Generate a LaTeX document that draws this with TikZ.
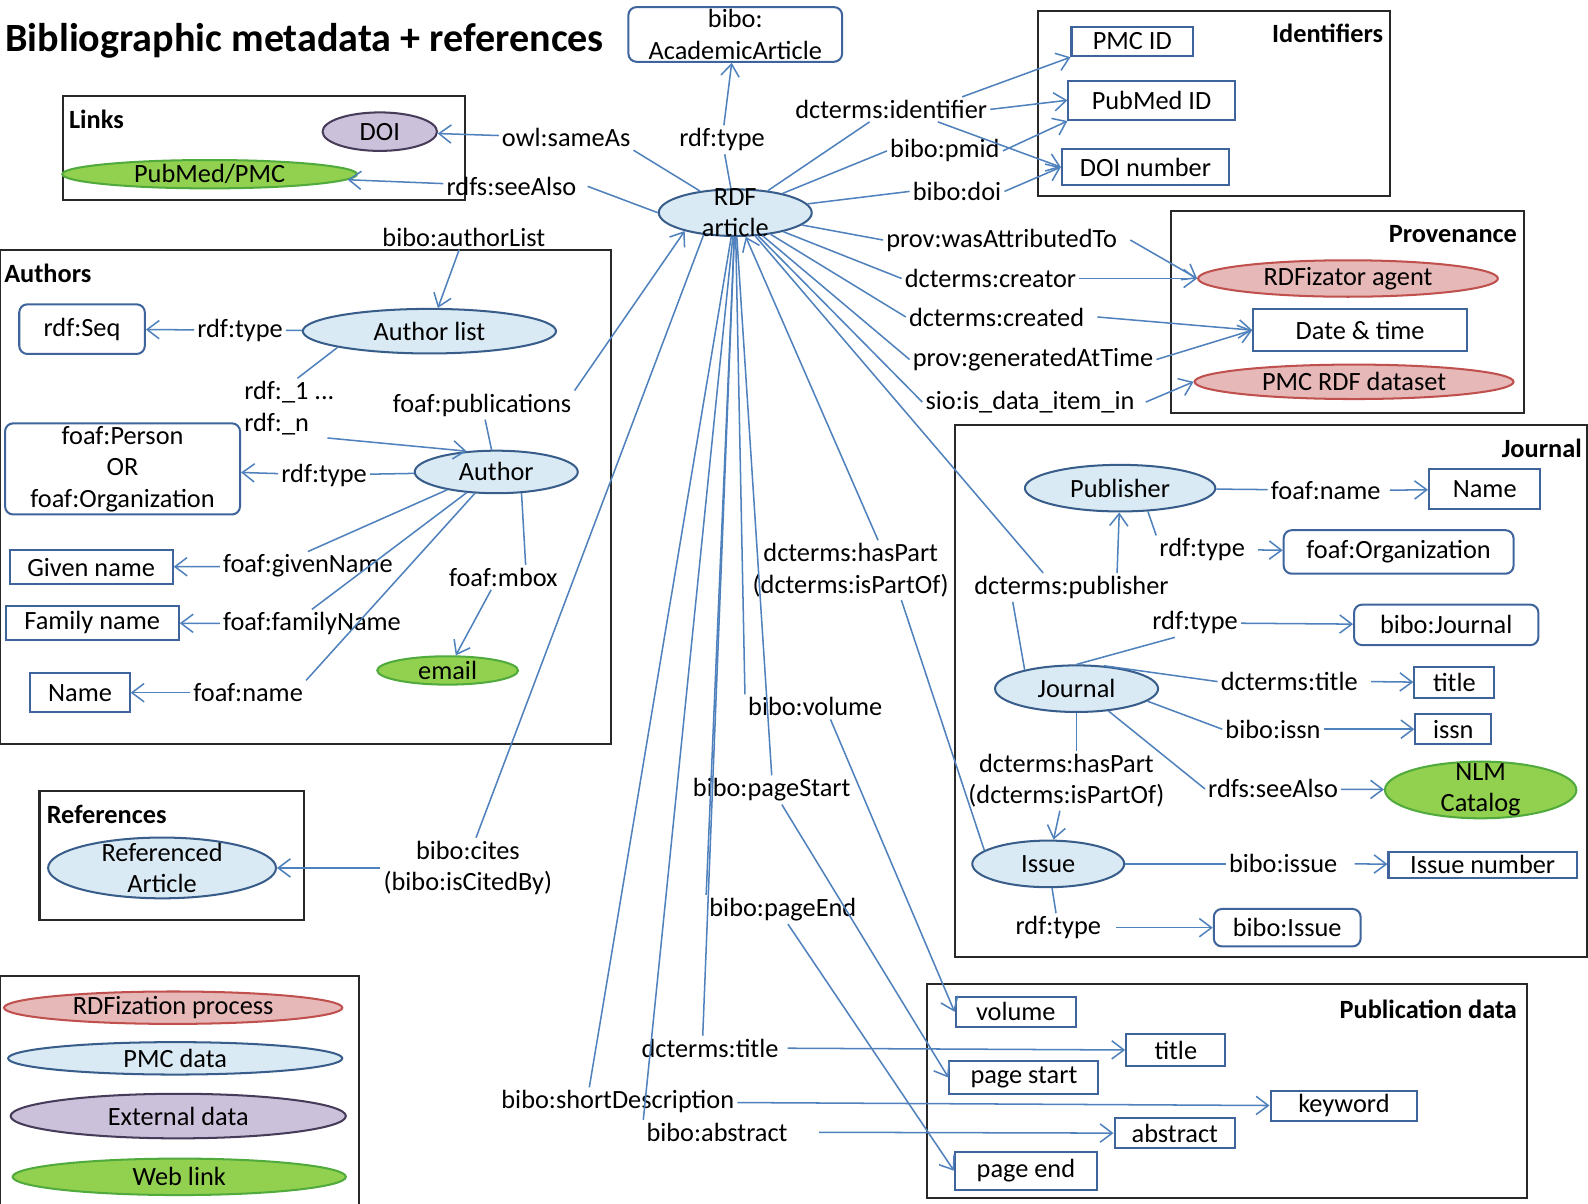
\documentclass[tikz,border=0pt]{standalone}
\usepackage{fontspec}
\setmainfont{Carlito}
\usepackage{xcolor}
\usetikzlibrary{arrows.meta,shapes.geometric}
\definecolor{linkblue}{RGB}{79,129,189}
\definecolor{nodeblue}{RGB}{62,100,155}
\definecolor{pmcfill}{RGB}{218,234,244}
\definecolor{pmcline}{RGB}{56,93,138}
\definecolor{rdzfill}{RGB}{230,184,183}
\definecolor{rdzline}{RGB}{192,80,77}
\definecolor{extfill}{RGB}{204,193,218}
\definecolor{extline}{RGB}{70,60,90}
\definecolor{webfill}{RGB}{146,208,80}
\definecolor{webline}{RGB}{80,170,60}
\definecolor{grpline}{RGB}{40,40,40}
\tikzset{
  lbl/.style={font=\fontsize{26}{31}\selectfont, inner sep=3pt, align=center},
  hd/.style={font=\fontsize{26}{31}\selectfont\bfseries, inner sep=0pt},
  ttl/.style={font=\fontsize{39.6}{46}\selectfont\bfseries, inner sep=0pt},
  box/.style 2 args={lbl, draw=nodeblue, line width=2pt, minimum width=#1, minimum height=#2, inner sep=0pt},
  rbox/.style 2 args={box={#1}{#2}, rounded corners=8pt},
  ell/.style 2 args={ellipse, line width=2pt, minimum width=#1, minimum height=#2, inner sep=0pt},
  pmc/.style 2 args={ell={#1}{#2}, draw=pmcline, fill=pmcfill},
  rdz/.style 2 args={ell={#1}{#2}, draw=rdzline, fill=rdzfill},
  ext/.style 2 args={ell={#1}{#2}, draw=extline, fill=extfill},
  web/.style 2 args={ell={#1}{#2}, draw=webline, fill=webfill},
  grp/.style={draw=grpline, line width=2pt},
  edge/.style={draw=linkblue, line width=1.5pt},
  arr/.style={edge, -{Straight Barb[length=12pt,width=18pt]}}
}
\begin{document}
\begin{tikzpicture}[x=1pt,y=-1pt]
\fill[white] (0,0) rectangle (1568,1188);
\useasboundingbox (0,0) rectangle (1568,1188);
\node[ttl,anchor=west] (title) at (5,40) {Bibliographic metadata + references};

% group boxes
\draw[grp] (62,95) rectangle (459,197);
\draw[grp] (1025,11) rectangle (1372,194);
\draw[grp] (1156,208) rectangle (1505,408);
\draw[grp] (0,247) rectangle (603,735);
\draw[grp] (39,781) rectangle (300,908);
\draw[grp] (0,964) rectangle (354,1192);
\draw[grp] (943,420) rectangle (1567,945);
\draw[grp] (915,972) rectangle (1508,1183);
\node[hd,anchor=west] (hlinks) at (68,118) {Links};
\node[hd,anchor=east] (hident) at (1366,33) {Identifiers};
\node[hd,anchor=east] (hprov) at (1498,231) {Provenance};
\node[hd,anchor=west] (hauth) at (4,270) {Authors};
\node[hd,anchor=west] (hrefs) at (46,804) {References};
\node[hd,anchor=east] (hjour) at (1562,443) {Journal};
\node[hd,anchor=east] (hpubd) at (1498,997) {Publication data};

% article
\node[pmc={151}{46},label={[lbl]center:RDF\\article}] (art) at (726,210) {};
\node[rbox={211}{54}] (acad) at (726,34) {bibo:\\AcademicArticle};
\node[lbl] (type) at (713,138) {rdf:type};
\draw[edge] (art) -- (type); \draw[arr] (type) -- (acad);

% links
\node[ext={113}{38},label={[lbl]center:DOI}] (doi) at (375,130) {};
\node[web={291}{28},label={[lbl]center:PubMed/PMC}] (pubmed) at (207,172) {};
\node[lbl] (sameas) at (559,136) {owl:sameAs};
\node[lbl] (seealso) at (505,184) {rdfs:seeAlso};
\draw[edge] (art) -- (sameas.south east); \draw[arr] (sameas) -- (doi);
\draw[edge] (art.west) -- ([xshift=8pt]seealso.east); \draw[arr] (seealso) -- (pubmed);

% identifiers
\node[box={120}{29}] (pmcid) at (1118,41) {PMC ID};
\node[box={164}{39}] (pmid) at (1137,99) {PubMed ID};
\node[box={165}{35}] (doinum) at (1131,165) {DOI number};
\node[lbl] (ident) at (880,108) {dcterms:identifier};
\node[lbl] (pmidl) at (933,149) {bibo:pmid};
\node[lbl] (doil) at (945,189) {bibo:doi};
\draw[edge] (art) -- (ident.210); \draw[edge] (art) -- (pmidl.west); \draw[edge] (art) -- (doil.west);
\draw[arr] (ident.10) -- (pmcid.south west); \draw[arr] (ident.east) -- (pmid.west);
\draw[arr] (ident.-15) -- (doinum.west);
\draw[arr] (pmidl.east) -- (pmid.south west); \draw[arr] (doil.east) -- (doinum.west);

% provenance
\node[rdz={296}{36},label={[lbl]center:RDFizator agent}] (agent) at (1331,275) {};
\node[box={211}{42}] (datetime) at (1343,326) {Date \& time};
\node[rdz={315}{34},label={[lbl]center:PMC RDF dataset}] (dataset) at (1337,377) {};
\node[lbl] (attr) at (989,237) {prov:wasAttributedTo};
\node[lbl] (creator) at (978,275) {dcterms:creator};
\node[lbl] (created) at (984,313) {dcterms:created};
\node[lbl] (gentime) at (1020,355) {prov:generatedAtTime};
\node[lbl] (itemin) at (1017,397) {sio:is\_data\_item\_in};
\foreach \p in {attr,creator,created,gentime,itemin} \draw[edge] (art) -- (\p.west);
\draw[arr] ([xshift=10pt]attr.east) -- (agent.west); \draw[arr] (creator.east) -- (agent.west);
\draw[arr] ([xshift=10pt]created.east) -- (datetime.west); \draw[arr] (gentime.east) -- (datetime.west);
\draw[arr] ([xshift=8pt]itemin.east) -- (dataset.west);

% authors
\node[rbox={124}{49}] (seq) at (81,325) {rdf:Seq};
\node[pmc={250}{44},label={[lbl]center:Author list}] (alist) at (424,327) {};
\node[lbl] (seqtype) at (237,326) {rdf:type};
\node[lbl] (alistl) at (458,234) {bibo:authorList};
\node[lbl,align=left,anchor=west] (memb) at (238,403) {rdf:\_1 ...\\rdf:\_n};
\node[rbox={232}{90}] (person) at (121,463) {foaf:Person\\OR\\foaf:Organization};
\node[pmc={161}{42},label={[lbl]center:Author}] (author) at (490,466) {};
\node[lbl] (ptype) at (320,469) {rdf:type};
\node[lbl] (pubs) at (476,400) {foaf:publications};
\node[box={161}{34}] (given) at (90,560) {Given name};
\node[box={171}{34}] (family) at (91,615) {Family name};
\node[box={98}{39}] (aname) at (79,684) {Name};
\node[lbl] (givenl) at (304,559) {foaf:givenName};
\node[lbl] (familyl) at (308,616) {foaf:familyName};
\node[lbl] (anamel) at (245,684) {foaf:name};
\node[lbl] (mbox) at (497,570) {foaf:mbox};
\node[web={139}{28},label={[lbl]center:email}] (email) at (442,662) {};
\draw[arr] (alistl) -- (alist);
\draw[edge] (alist) -- (seqtype); \draw[arr] (seqtype) -- (seq);
\draw[edge] (alist.190) -- ([xshift=8pt]memb.north); \draw[arr] ([xshift=-10pt]memb.south east) -- (author.145);
\draw[edge] (author) -- (ptype); \draw[arr] (ptype) -- (person);
\draw[edge] (author) -- (pubs); \draw[arr] (pubs.north east) -- (art.200);
\draw[edge] (author.200) -- (givenl.north); \draw[arr] (givenl) -- (given);
\draw[edge] (author.215) -- (familyl.north); \draw[arr] (familyl) -- (family);
\draw[edge] (author.225) -- (anamel.north east); \draw[arr] (anamel) -- (aname);
\draw[edge] (author.320) -- ([xshift=22pt]mbox.north); \draw[arr] ([xshift=-12pt]mbox.south) -- (email);

% references
\node[pmc={225}{60},label={[lbl]center:Referenced\\Article}] (refart) at (160,857) {};
\node[lbl] (cites) at (462,857) {bibo:cites\\(bibo:isCitedBy)};
\draw[edge] (art.215) -- ([xshift=8pt]cites.north); \draw[arr] (cites) -- (refart);

% legend
\node[rdz={334}{32},label={[lbl]center:RDFization process}] (leg1) at (171,995) {};
\node[pmc={330}{32},label={[lbl]center:PMC data}] (leg2) at (173,1045) {};
\node[ext={331}{44},label={[lbl]center:External data}] (leg3) at (176,1102) {};
\node[web={329}{36},label={[lbl]center:Web link}] (leg4) at (177,1162) {};

% journal
\node[pmc={188}{46},label={[lbl]center:Publisher}] (publisher) at (1106,482) {};
\node[lbl] (pname) at (1309,484) {foaf:name};
\node[box={110}{40}] (jname) at (1466,483) {Name};
\node[lbl] (pubtype) at (1187,543) {rdf:type};
\node[rbox={227}{43}] (org) at (1381,545) {foaf:Organization};
\node[lbl] (publ) at (1058,580) {dcterms:publisher};
\node[lbl] (jtype) at (1180,615) {rdf:type};
\node[rbox={182}{40}] (bjournal) at (1428,617) {bibo:Journal};
\node[pmc={161}{46},label={[lbl]center:Journal}] (journal) at (1063,680) {};
\node[lbl] (jtitle) at (1273,673) {dcterms:title};
\node[box={79}{31}] (jtitlebox) at (1436,674) {title};
\node[lbl] (issn) at (1257,720) {bibo:issn};
\node[box={75}{30}] (issnbox) at (1435,720) {issn};
\node[lbl] (jsee) at (1257,779) {rdfs:seeAlso};
\node[web={189}{56},label={[lbl]center:NLM\\Catalog}] (nlm) at (1462,780) {};
\node[lbl] (jpart) at (1053,771) {dcterms:hasPart\\(dcterms:isPartOf)};
\node[pmc={150}{46},label={[lbl]center:Issue}] (issue) at (1035,853) {};
\node[lbl] (inum) at (1267,853) {bibo:issue};
\node[box={186}{25}] (inumbox) at (1464,854) {Issue number};
\node[lbl] (itype) at (1045,916) {rdf:type};
\node[rbox={145}{37}] (bissue) at (1271,916) {bibo:Issue};
\node[lbl] (apart) at (840,563) {dcterms:hasPart\\(dcterms:isPartOf)};
\draw[edge] (publisher) -- (pname); \draw[arr] ([xshift=6pt]pname.east) -- (jname);
\draw[edge] (publisher.-40) -- (pubtype.north west); \draw[arr] ([xshift=10pt]pubtype.east) -- (org);
\draw[edge] (art) -- ([xshift=-28pt]publ.north); \draw[edge] (journal.160) -- ([xshift=-58pt]publ.south);
\draw[arr] ([xshift=45pt]publ.north) -- (publisher);
\draw[edge] (journal.north) -- ([xshift=-20pt]jtype.south); \draw[arr] (jtype) -- (bjournal);
\draw[edge] (journal.40) -- (jtitle.west); \draw[arr] ([xshift=10pt]jtitle.east) -- (jtitlebox);
\draw[edge] (journal.-10) -- (issn.west); \draw[arr] (issn) -- (issnbox);
\draw[edge] (journal.-35) -- (jsee.west); \draw[arr] (jsee) -- (nlm);
\draw[edge] (journal.south) -- ([xshift=10pt]jpart.north); \draw[arr] (jpart) -- (issue);
\draw[edge] (issue) -- (inum); \draw[arr] ([xshift=14pt]inum.east) -- (inumbox);
\draw[edge] (issue) -- (itype); \draw[arr] ([xshift=12pt]itype.east) -- (bissue);
\draw[edge] (issue.168) -- ([xshift=50pt]apart.south); \draw[arr] ([xshift=27pt]apart.north) -- (art);

% publication data
\node[box={119}{30}] (volbox) at (1003,999) {volume};
\node[box={98}{32}] (ptitlebox) at (1161,1037) {title};
\node[box={147}{32}] (psbox) at (1011,1064) {page start};
\node[box={145}{29}] (kwbox) at (1327,1092) {keyword};
\node[box={119}{30}] (absbox) at (1160,1119) {abstract};
\node[box={140}{38}] (pebox) at (1013,1156) {page end};
\node[lbl] (vol) at (805,698) {bibo:volume};
\node[lbl] (pstart) at (762,780) {bibo:pageStart};
\node[lbl] (pend) at (773,898) {bibo:pageEnd};
\node[lbl] (dtitle) at (701,1035) {dcterms:title};
\node[lbl] (sdesc) at (610,1088) {bibo:shortDescription};
\node[lbl] (abs) at (708,1118) {bibo:abstract};
\draw[edge] (art) -- (vol.north west); \draw[arr] ([xshift=15pt]vol.south) -- (volbox.west);
\draw[edge] (art) -- (pstart.north); \draw[arr] ([xshift=10pt]pstart.south) -- (psbox.west);
\draw[edge] (art) -- (pend.north west); \draw[arr] ([xshift=5pt]pend.south) -- (pebox.west);
\draw[edge] (art) -- (dtitle.120); \draw[arr] ([xshift=6pt]dtitle.east) -- (ptitlebox);
\draw[edge] (art) -- (sdesc.153); \draw[arr] (sdesc) -- (kwbox);
\draw[edge] (art) -- (abs.north west); \draw[arr] ([xshift=28pt]abs.east) -- (absbox);
\end{tikzpicture}
\end{document}
